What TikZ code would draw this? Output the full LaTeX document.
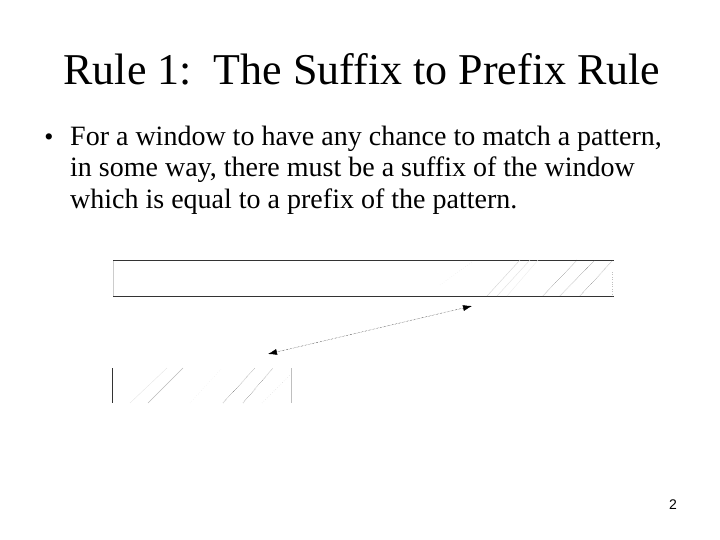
\documentclass[tikz,border=0pt]{standalone}
\usepackage{fontspec}
\setmainfont{Liberation Serif}
\newfontfamily\numfont{Liberation Sans}
\usepackage{tikz}
\usetikzlibrary{calc, arrows.meta}

\begin{document}
\begin{tikzpicture}[x=1pt, y=-1pt]
        \useasboundingbox (0,0) rectangle (720,540);
        \tikzset{bodytext/.style={anchor=base west, inner sep=0pt, font=\fontsize{28}{33}\selectfont}}

        \node[anchor=base, inner sep=0pt, font=\fontsize{44}{50}\selectfont] (title) at (362,85) {Rule 1:\ \ The Suffix to Prefix Rule};
        \node[anchor=base, inner sep=0pt, font=\fontsize{26}{30}\selectfont] (bullet) at (49,146) {\textbullet};
        \node[bodytext] (lineA) at (70,146) {For a window to have any chance to match a pattern,};
        \node[bodytext] (lineB) at (70,177) {in some way, there must be a suffix of the window};
        \node[bodytext] (lineC) at (70,208) {which is equal to a prefix of the pattern.};

        % the window
        \draw[gray!40] (113,260) -- (113,296);
        \draw[thick, black!80] (113,260) -- (614,260);
        \draw[thick, black!80] (113,296) -- (614,296);
        \draw[gray!25, dotted] (440,285) -- (472,262);
        \draw[gray!35] (487,296) -- (520,260);
        \draw[gray!25] (497,296) -- (530,260);
        \draw[gray!15] (507,296) -- (538,260);
        \draw[black!70, densely dotted] (543,296) -- (577,260);
        \draw[black!70, densely dotted] (560,296) -- (595,260);
        \draw[black!70, densely dotted] (580,296) -- (613,260);
        \draw[gray!50, dotted] (612,272) -- (612,296);

        % the pattern
        \draw[black!80] (112,368) -- (112,403);
        \draw[gray!50] (291,368) -- (291,403);
        \draw[gray!20] (130,403) -- (167,368);
        \draw[gray!55] (148,403) -- (183,368);
        \draw[gray!20, dotted] (190,403) -- (222,368);
        \draw[black!75, densely dotted] (223,403) -- (255,368);
        \draw[black!75, densely dotted] (243,403) -- (273,368);
        \draw[gray!35, dotted] (262,403) -- (290,375);

        \coordinate (pre) at (268,354);
        \coordinate (suf) at (472,306);
        \draw[densely dotted, {Latex[length=9pt,width=6pt]}-{Latex[length=9pt,width=6pt]}] (pre) -- (suf);

        \node[inner sep=0pt, font=\numfont\fontsize{14}{16}\selectfont] (pagenum) at (673,505) {2};
    \end{tikzpicture}
\end{document}
